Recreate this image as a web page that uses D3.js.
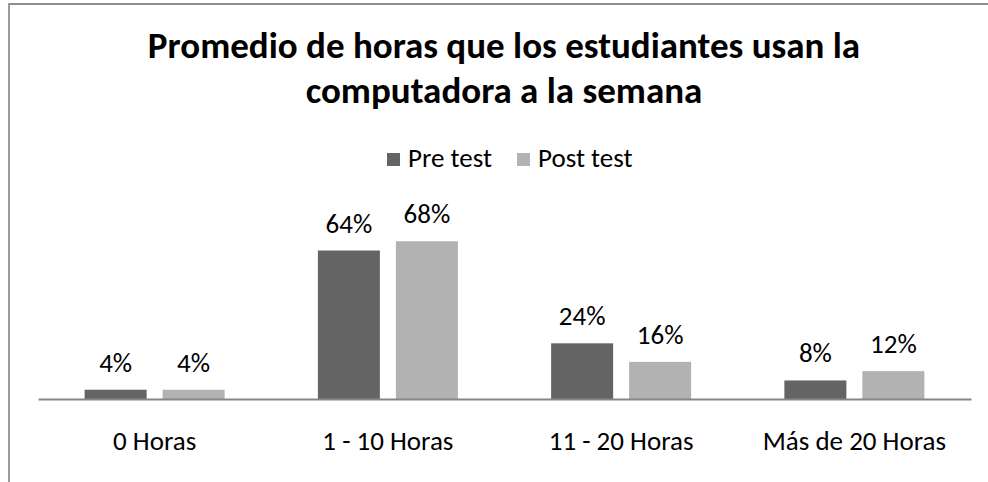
<!DOCTYPE html>
<html>
<head>
<meta charset="utf-8">
<script src="https://cdn.jsdelivr.net/npm/d3@7"></script>
<style>
  html, body { margin: 0; padding: 0; background: #fff; }
  svg { display: block; }
  text { font-family: Calibri, Carlito, "Open Sans", sans-serif; fill: #000; }
</style>
</head>
<body>
<svg id="chart" width="988" height="482"></svg>
<script>
const titleLines = ["Promedio de horas que los estudiantes usan la", "computadora a la semana"];
const categories = ["0 Horas", "1 - 10 Horas", "11 - 20 Horas", "Más de 20 Horas"];
const seriesNames = ["Pre test", "Post test"];
const preTest = [4, 64, 24, 8];
const postTest = [4, 68, 16, 12];
const seriesColors = ["#646464", "#b2b2b2"];

const W = 988, H = 482;
const svg = d3.select("#chart");

// frame (top and left borders only visible)
svg.append("line").attr("x1", 8).attr("x2", W).attr("y1", 4).attr("y2", 4)
  .attr("stroke", "#8e8e8e").attr("stroke-width", 2);
svg.append("line").attr("x1", 9).attr("x2", 9).attr("y1", 3).attr("y2", H)
  .attr("stroke", "#9a9a9a").attr("stroke-width", 2);

// title
const title = svg.append("text").attr("text-anchor", "middle")
  .style("font-weight", "bold").style("font-size", "37px");
titleLines.forEach((t, i) => {
  title.append("tspan").attr("x", 504).attr("y", 58 + i * 45).text(t);
});

// scales
const plotLeft = 38, plotRight = 971, baseY = 399;
const x0 = d3.scaleBand().domain(categories).range([plotLeft, plotRight]).padding(0);
const groupW = 140;
const x1 = d3.scaleBand().domain(seriesNames).range([0, groupW]).paddingInner(0.205).paddingOuter(0);
const y = d3.scaleLinear().domain([0, 80]).range([baseY, baseY - 185.6]);

const data = categories.map((c, i) => ({ cat: c, values: [
  { s: seriesNames[0], v: preTest[i], color: seriesColors[0] },
  { s: seriesNames[1], v: postTest[i], color: seriesColors[1] }
]}));

const groups = svg.append("g").selectAll("g").data(data).join("g")
  .attr("transform", d => `translate(${x0(d.cat) + x0.bandwidth() / 2 - groupW / 2},0)`);

groups.selectAll("rect").data(d => d.values).join("rect")
  .attr("x", d => x1(d.s))
  .attr("width", x1.bandwidth())
  .attr("y", d => y(d.v))
  .attr("height", d => y(0) - y(d.v))
  .attr("fill", d => d.color);

groups.selectAll("text.val").data(d => d.values).join("text")
  .attr("class", "val")
  .attr("text-anchor", "middle")
  .attr("x", d => x1(d.s) + x1.bandwidth() / 2)
  .attr("y", d => y(d.v) - 18)
  .style("font-size", "27px")
  .text(d => d.v + "%");

// x axis
const xAxis = d3.axisBottom(x0).tickSize(0).tickPadding(0);
const ax = svg.append("g").attr("transform", `translate(0,${baseY})`).call(xAxis);
ax.select(".domain").attr("stroke", "#868686").attr("stroke-width", 2);
ax.selectAll(".tick text").attr("dy", null).attr("y", 51)
  .style("font-family", 'Calibri, Carlito, "Open Sans", sans-serif')
  .style("font-size", "27px").attr("fill", "#000");

// legend
const legendItems = [
  { name: seriesNames[0], color: seriesColors[0], x: 387 },
  { name: seriesNames[1], color: seriesColors[1], x: 517 }
];
const lg = svg.append("g");
legendItems.forEach(it => {
  lg.append("rect").attr("x", it.x).attr("y", 153).attr("width", 13).attr("height", 13).attr("fill", it.color);
  lg.append("text").attr("x", it.x + 21).attr("y", 167).style("font-size", "27px").text(it.name);
});
</script>
</body>
</html>
